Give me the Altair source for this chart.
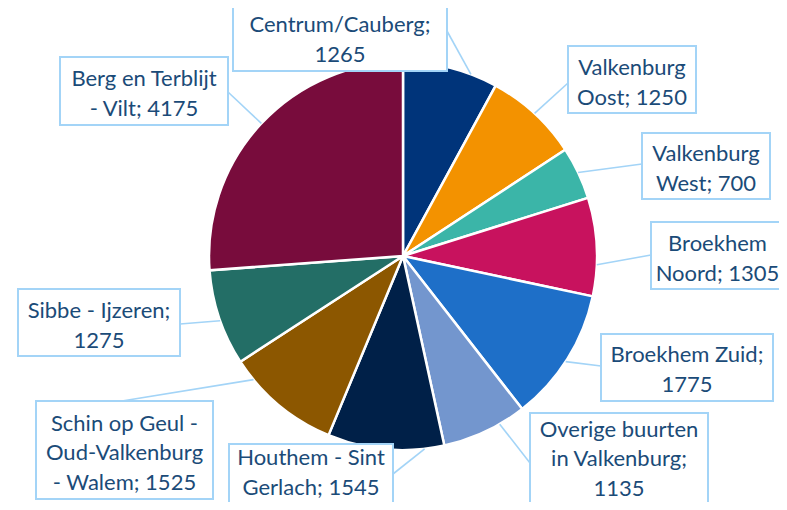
import math
import altair as alt
import pandas as pd

# ---- data ----
names = ["Centrum/Cauberg", "Valkenburg Oost", "Valkenburg West", "Broekhem Noord",
         "Broekhem Zuid", "Overige buurten in Valkenburg", "Houthem - Sint Gerlach",
         "Schin op Geul - Oud-Valkenburg - Walem", "Sibbe - Ijzeren", "Berg en Terblijt - Vilt"]
values = [1265, 1250, 700, 1305, 1775, 1135, 1545, 1525, 1275, 4175]
label_lines = [
    ["Centrum/Cauberg;", "1265"],
    ["Valkenburg", "Oost; 1250"],
    ["Valkenburg", "West; 700"],
    ["Broekhem", "Noord; 1305"],
    ["Broekhem Zuid;", "1775"],
    ["Overige buurten", "in Valkenburg;", "1135"],
    ["Houthem - Sint", "Gerlach; 1545"],
    ["Schin op Geul -", "Oud-Valkenburg", "- Walem; 1525"],
    ["Sibbe - Ijzeren;", "1275"],
    ["Berg en Terblijt", "- Vilt; 4175"],
]

# ---- style / layout ----
colors = ["#00347A", "#F39200", "#3BB5A8", "#C8125E", "#1E6FC8",
          "#7396CE", "#002048", "#8C5700", "#236E66", "#780C3C"]
M = 8  # page margin
CX, CY, R = 403, 256, 194
LH = 29.5
# label boxes in page pixels: left, top, right, bottom
boxes = [
    (233, 3, 447, 71), (568, 46, 696, 113), (642, 133, 770, 199), (651, 222, 784, 289),
    (601, 334, 773, 401), (530, 413, 708, 511), (229, 444, 393, 511), (36, 401, 213, 499),
    (18, 289, 180, 356), (60, 57, 228, 125),
]
leader_start = [(447, 31), (568, 83), (642, 164), (651, 255), (601, 366),
                (530, 463), (393, 474), (122, 401), (180, 324), (228, 92)]
leader_angle = [20.5, 42.7, 64.5, 92.6, 123.0, 150.1, 173.6, 230.4, 250.5, 313.1]
# vertical centre of the text block inside each box (page pixels)
text_centre = [40, 83, 169, 259, 370, 459, 473, 453, 326, 94]

pie_df = pd.DataFrame({"name": names, "value": values, "idx": list(range(len(names)))})

box_df = pd.DataFrame({
    "x1": [b[0] - M for b in boxes], "y1": [b[1] - M for b in boxes],
    "x2": [b[2] - M for b in boxes], "y2": [b[3] - M for b in boxes],
    "tx": [(b[0] + b[2]) / 2 - M for b in boxes],
    "ty": [c - (len(l) - 1) / 2 * LH - M for c, l in zip(text_centre, label_lines)],
    "label": ["\n".join(l) for l in label_lines],
})
lead_df = pd.DataFrame({
    "x1": [p[0] - M for p in leader_start], "y1": [p[1] - M for p in leader_start],
    "x2": [CX + R * math.sin(math.radians(a)) - M for a in leader_angle],
    "y2": [CY - R * math.cos(math.radians(a)) - M for a in leader_angle],
})

pie = alt.Chart(pie_df).mark_arc(outerRadius=R, stroke="white", strokeWidth=2.5).encode(
    theta=alt.Theta("value:Q", stack=True),
    order=alt.Order("idx:Q"),
    color=alt.Color("name:N", scale=alt.Scale(domain=names, range=colors), legend=None),
    x=alt.value(CX - M), y=alt.value(CY - M),
)

leaders = alt.Chart(lead_df).mark_rule(color="#A3D4F7", strokeWidth=1.6).encode(
    x=alt.X("x1:Q", scale=None, axis=None), y=alt.Y("y1:Q", scale=None, axis=None),
    x2="x2:Q", y2="y2:Q",
)

rects = alt.Chart(box_df).mark_rect(fill="white", stroke="#A3D4F7", strokeWidth=2).encode(
    x=alt.X("x1:Q", scale=None, axis=None), y=alt.Y("y1:Q", scale=None, axis=None),
    x2="x2:Q", y2="y2:Q",
)

texts = alt.Chart(box_df).mark_text(
    font="Lato", fontSize=22, color="#1B4B78", lineBreak="\n", lineHeight=LH,
    align="center", baseline="middle",
).encode(
    x=alt.X("tx:Q", scale=None, axis=None), y=alt.Y("ty:Q", scale=None, axis=None),
    text="label:N",
)

chart = alt.layer(pie, leaders, rects, texts).properties(
    width=771, height=494, autosize=alt.AutoSizeParams(type="none"), padding=0,
).configure_view(stroke=None)

chart.save("out.html", embed_options={"renderer": "svg", "actions": False})
